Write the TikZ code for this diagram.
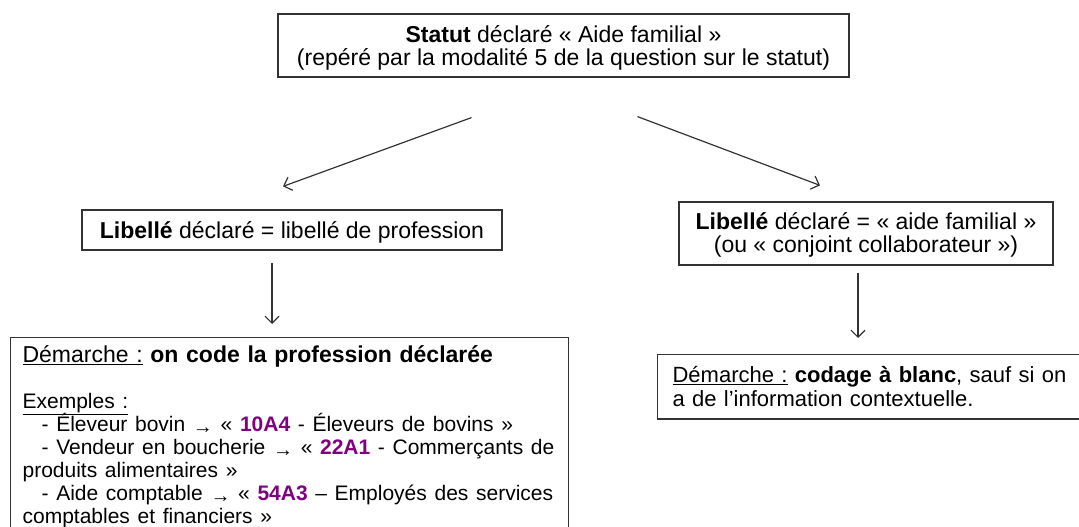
\documentclass[tikz,border=0pt]{standalone}
\usepackage{fontspec}
\setmainfont{Liberation Sans}
\usetikzlibrary{arrows.meta}
\definecolor{codepurple}{RGB}{128,0,128}
\newcommand{\code}[1]{\textcolor{codepurple}{\textbf{#1}}}
\newcommand{\fl}{\raisebox{-2pt}{\fontsize{20}{20}\selectfont →}}
\newcommand{\soul}[1]{\smash{\underline{#1}}}

\begin{document}
\begin{tikzpicture}[x=1pt,y=-1pt,
  box/.style={draw=black!80, line width=1.2pt, fill=white, font=\fontsize{23}{23}\selectfont},
  arr/.style={draw=black!80, line width=1.2pt, -{Straight Barb[length=7pt,width=14pt]}}]
\useasboundingbox (0,0) rectangle (1079,527);
\clip (0,0) rectangle (1079,527);

% boite du haut
\node [box, align=center, inner ysep=2pt, minimum width=571pt, minimum height=63pt] (statut) at (563.5,45.5)
  {\rule{0pt}{22pt}\textbf{Statut} déclaré «~Aide familial~»\\(repéré par la modalité 5 de la question sur le statut)};

% deux cas
\node [box, inner ysep=2pt, text height=21pt, minimum width=420pt, minimum height=40pt] (libprof) at (292,230)
  {\textbf{Libellé} déclaré = libellé de profession};
\node [box, align=center, inner ysep=2pt, minimum width=374pt, minimum height=63pt] (libaide) at (866,233.5)
  {\rule{0pt}{20.5pt}\textbf{Libellé} déclaré = «~aide familial~»\\(ou «~conjoint collaborateur~»)};

% demarches
\node [box, anchor=north west, align=left, text width=534pt, inner xsep=12pt, inner ysep=8pt] (demprof) at (10,337)
  {\soul{Démarche :} \textbf{on code la profession déclarée}\\[23pt]
   \fontsize{21}{23}\selectfont
   \soul{Exemples :}\\
   \hspace*{19pt}- Éleveur bovin \fl{} «~\code{10A4} - Éleveurs de bovins~»\\
   \hspace*{19pt}- Vendeur en boucherie \fl{} «~\code{22A1} - Commerçants de\\
   produits alimentaires~»\\
   \hspace*{19pt}- Aide comptable \fl{} «~\code{54A3} – Employés des services\\
   comptables et financiers~»\\ \mbox{}};
\node [box, anchor=north west, align=left, text width=440pt, inner xsep=15pt, inner ysep=12pt,
  font=\fontsize{22}{24}\selectfont] (demaide) at (657,354)
  {\soul{Démarche :} \textbf{codage à blanc}, sauf si on\\a de l’information contextuelle.};

% fleches
\draw [arr] ([shift={(-92,40)}]statut.south) -- ([shift={(-9,-23)}]libprof.north);
\draw [arr] ([shift={(74,39)}]statut.south) -- ([shift={(-46,-16)}]libaide.north);
\draw [arr] ([shift={(-20,12)}]libprof.south) -- ([shift={(-20,-13)}]demprof.north -| libprof.south);
\draw [arr] ([shift={(-8,7)}]libaide.south) -- ([shift={(-8,-16)}]demaide.north -| libaide.south);
\end{tikzpicture}
\end{document}
